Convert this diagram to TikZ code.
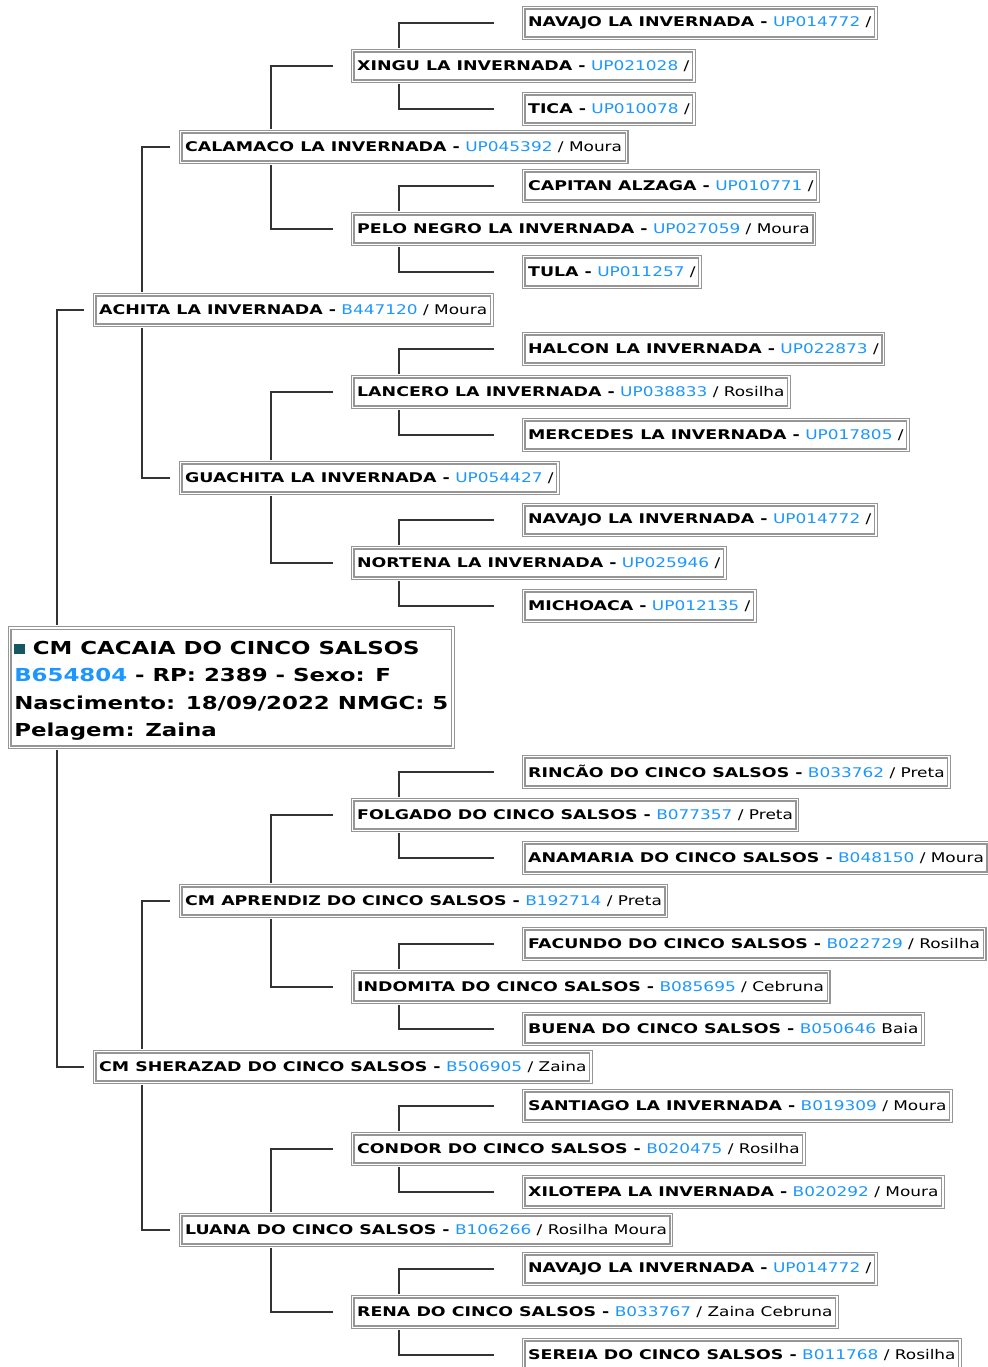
\documentclass[tikz,border=0pt]{standalone}
\usepackage{fontspec}
\setmainfont{DejaVu Sans}[UprightFeatures={FakeStretch=1.27}, BoldFeatures={FakeStretch=1.305}]
\newfontfamily\rootfont{DejaVu Sans}[FakeStretch=1.28]
\usepackage{xcolor}
\usepackage{tikz}

\definecolor{regblue}{RGB}{30,150,255}
\definecolor{boxgray}{RGB}{150,150,150}
\definecolor{linkgray}{RGB}{51,51,51}
\definecolor{markteal}{RGB}{22,88,98}

% name - registration / coat
\newcommand{\horse}[3]{\textbf{#1 -} \textcolor{regblue}{#2} /\if\relax\detokenize{#3}\relax\else\ #3\fi}

\tikzset{
    animal/.style={draw=boxgray, double=white, double distance=1.2pt, line width=0.9pt, fill=white,
        inner xsep=3.4pt, inner ysep=2pt, minimum height=23pt, anchor=west,
        font=\fontsize{10}{12}\selectfont},
    link/.style={draw=linkgray, line width=1.5pt, shorten <=1.5pt},
}

\begin{document}
\begin{tikzpicture}[x=0.75pt,y=0.75pt,yscale=-1,xscale=1]

        \clip (0,0) rectangle (988,1367);

        % columns of the connectors
        \coordinate (c1) at (57,0);
        \coordinate (e1) at (84,0);
        \coordinate (c2) at (142,0);
        \coordinate (e2) at (170,0);
        \coordinate (c3) at (271,0);
        \coordinate (e3) at (333,0);
        \coordinate (c4) at (399,0);
        \coordinate (e4) at (494,0);

        % animal
        \node [animal, align=left, inner xsep=3.5pt, inner ysep=5pt, font=\rootfont\fontsize{13.4}{20.6}\selectfont\bfseries] (cacaia) at (9,687.5)
            {\rule{0pt}{15pt}\textcolor{markteal}{\rule{0.6em}{0.6em}} CM CACAIA DO CINCO SALSOS\\
             \textcolor{regblue}{B654804} - RP: 2389 - Sexo: F\\
             Nascimento: 18/09/2022 NMGC: 5\\
             Pelagem: Zaina};

        % parents
        \node [animal] (achita) at (94,310) {\horse{ACHITA LA INVERNADA}{B447120}{Moura}};
        \node [animal] (sherazad) at (94,1067) {\horse{CM SHERAZAD DO CINCO SALSOS}{B506905}{Zaina}};

        % grandparents
        \node [animal] (calamaco) at (180,147) {\horse{CALAMACO LA INVERNADA}{UP045392}{Moura}};
        \node [animal] (guachita) at (180,478) {\horse{GUACHITA LA INVERNADA}{UP054427}{}};
        \node [animal] (aprendiz) at (180,901) {\horse{CM APRENDIZ DO CINCO SALSOS}{B192714}{Preta}};
        \node [animal] (luana) at (180,1230) {\horse{LUANA DO CINCO SALSOS}{B106266}{Rosilha Moura}};

        % great-grandparents
        \node [animal] (xingu) at (352,66) {\horse{XINGU LA INVERNADA}{UP021028}{}};
        \node [animal] (pelonegro) at (352,229) {\horse{PELO NEGRO LA INVERNADA}{UP027059}{Moura}};
        \node [animal] (lancero) at (352,392) {\horse{LANCERO LA INVERNADA}{UP038833}{Rosilha}};
        \node [animal] (nortena) at (352,563) {\horse{NORTENA LA INVERNADA}{UP025946}{}};
        \node [animal] (folgado) at (352,815) {\horse{FOLGADO DO CINCO SALSOS}{B077357}{Preta}};
        \node [animal] (indomita) at (352,987) {\horse{INDOMITA DO CINCO SALSOS}{B085695}{Cebruna}};
        \node [animal] (condor) at (352,1149) {\horse{CONDOR DO CINCO SALSOS}{B020475}{Rosilha}};
        \node [animal] (rena) at (352,1312) {\horse{RENA DO CINCO SALSOS}{B033767}{Zaina Cebruna}};

        % great-great-grandparents
        \node [animal] (navajoA) at (523,23) {\horse{NAVAJO LA INVERNADA}{UP014772}{}};
        \node [animal] (tica) at (523,109) {\horse{TICA}{UP010078}{}};
        \node [animal] (capitan) at (523,186) {\horse{CAPITAN ALZAGA}{UP010771}{}};
        \node [animal] (tula) at (523,272) {\horse{TULA}{UP011257}{}};
        \node [animal] (halcon) at (523,349) {\horse{HALCON LA INVERNADA}{UP022873}{}};
        \node [animal] (mercedes) at (523,435) {\horse{MERCEDES LA INVERNADA}{UP017805}{}};
        \node [animal] (navajoB) at (523,520) {\horse{NAVAJO LA INVERNADA}{UP014772}{}};
        \node [animal] (michoaca) at (523,606) {\horse{MICHOACA}{UP012135}{}};
        \node [animal] (rincao) at (523,772) {\horse{RINCÃO DO CINCO SALSOS}{B033762}{Preta}};
        \node [animal] (anamaria) at (523,858) {\horse{ANAMARIA DO CINCO SALSOS}{B048150}{Moura}};
        \node [animal] (facundo) at (523,944) {\horse{FACUNDO DO CINCO SALSOS}{B022729}{Rosilha}};
        \node [animal] (buena) at (523,1029) {\textbf{BUENA DO CINCO SALSOS -} \textcolor{regblue}{B050646} Baia};
        \node [animal] (santiago) at (523,1106) {\horse{SANTIAGO LA INVERNADA}{B019309}{Moura}};
        \node [animal] (xilotepa) at (523,1192) {\horse{XILOTEPA LA INVERNADA}{B020292}{Moura}};
        \node [animal] (navajoC) at (523,1269) {\horse{NAVAJO LA INVERNADA}{UP014772}{}};
        \node [animal] (sereia) at (523,1355) {\horse{SEREIA DO CINCO SALSOS}{B011768}{Rosilha}};

        % connectors
        \draw [link] (cacaia.north -| c1) |- (achita.west -| e1);
        \draw [link] (cacaia.south -| c1) |- (sherazad.west -| e1);

        \draw [link] (achita.north -| c2) |- (calamaco.west -| e2);
        \draw [link] (achita.south -| c2) |- (guachita.west -| e2);
        \draw [link] (sherazad.north -| c2) |- (aprendiz.west -| e2);
        \draw [link] (sherazad.south -| c2) |- (luana.west -| e2);

        \draw [link] (calamaco.north -| c3) |- (xingu.west -| e3);
        \draw [link] (calamaco.south -| c3) |- (pelonegro.west -| e3);
        \draw [link] (guachita.north -| c3) |- (lancero.west -| e3);
        \draw [link] (guachita.south -| c3) |- (nortena.west -| e3);
        \draw [link] (aprendiz.north -| c3) |- (folgado.west -| e3);
        \draw [link] (aprendiz.south -| c3) |- (indomita.west -| e3);
        \draw [link] (luana.north -| c3) |- (condor.west -| e3);
        \draw [link] (luana.south -| c3) |- (rena.west -| e3);

        \draw [link] (xingu.north -| c4) |- (navajoA.west -| e4);
        \draw [link] (xingu.south -| c4) |- (tica.west -| e4);
        \draw [link] (pelonegro.north -| c4) |- (capitan.west -| e4);
        \draw [link] (pelonegro.south -| c4) |- (tula.west -| e4);
        \draw [link] (lancero.north -| c4) |- (halcon.west -| e4);
        \draw [link] (lancero.south -| c4) |- (mercedes.west -| e4);
        \draw [link] (nortena.north -| c4) |- (navajoB.west -| e4);
        \draw [link] (nortena.south -| c4) |- (michoaca.west -| e4);
        \draw [link] (folgado.north -| c4) |- (rincao.west -| e4);
        \draw [link] (folgado.south -| c4) |- (anamaria.west -| e4);
        \draw [link] (indomita.north -| c4) |- (facundo.west -| e4);
        \draw [link] (indomita.south -| c4) |- (buena.west -| e4);
        \draw [link] (condor.north -| c4) |- (santiago.west -| e4);
        \draw [link] (condor.south -| c4) |- (xilotepa.west -| e4);
        \draw [link] (rena.north -| c4) |- (navajoC.west -| e4);
        \draw [link] (rena.south -| c4) |- (sereia.west -| e4);
    \end{tikzpicture}
\end{document}
